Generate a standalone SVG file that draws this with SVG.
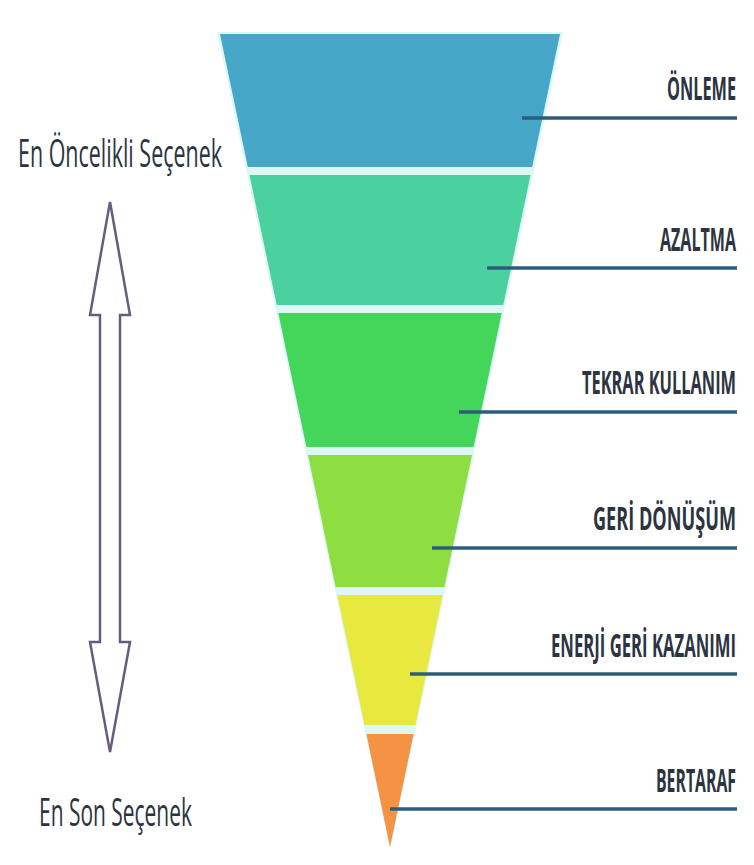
<svg xmlns="http://www.w3.org/2000/svg" width="754" height="865" viewBox="0 0 754 865">
<style>
.lbl{font-family:"Open Sans","Liberation Sans",sans-serif;font-weight:700;font-size:32px;fill:#2b3440}
.side{font-family:"Open Sans","Liberation Sans",sans-serif;font-size:39px;fill:#2b3440}
.ln{stroke:#2e5d7c;stroke-width:3.5;fill:none}
.arr{fill:#ffffff;stroke:#675c7f;stroke-width:2.5;stroke-linejoin:miter}
</style>
<rect width="754" height="865" fill="#ffffff"/>
<polygon points="217,32 563,32 390,850" fill="#dcf7f6"/>
<g id="onleme">
<polygon points="220,34 560,34 532.2,167 247.8,167" fill="#47a7c8"/>
<text class="lbl" transform="translate(667,100) scale(0.53,1)" x="0" y="0" textLength="130.2" lengthAdjust="spacingAndGlyphs">ÖNLEME</text>
</g>
<g id="azaltma">
<polygon points="249.5,175 530.5,175 503.3,305 276.7,305" fill="#4bd19f"/>
<text class="lbl" transform="translate(660,251) scale(0.53,1)" x="0" y="0" textLength="143.4" lengthAdjust="spacingAndGlyphs">AZALTMA</text>
</g>
<g id="tekrar">
<polygon points="278.3,313 501.7,313 473.6,447 306.4,447" fill="#44d65a"/>
<text class="lbl" transform="translate(582,394) scale(0.53,1)" x="0" y="0" textLength="290.6" lengthAdjust="spacingAndGlyphs">TEKRAR KULLANIM</text>
</g>
<g id="geri-donusum">
<polygon points="308,455 472,455 444.4,587 335.6,587" fill="#8ede42"/>
<text class="lbl" transform="translate(593,530) scale(0.53,1)" x="0" y="0" textLength="269.8" lengthAdjust="spacingAndGlyphs">GERİ DÖNÜŞÜM</text>
</g>
<g id="enerji">
<polygon points="337.3,595 442.7,595 415.5,725 364.5,725" fill="#e8e93f"/>
<text class="lbl" transform="translate(551,657) scale(0.53,1)" x="0" y="0" textLength="349.1" lengthAdjust="spacingAndGlyphs">ENERJİ GERİ KAZANIMI</text>
</g>
<g id="bertaraf">
<polygon points="366.4,734 413.6,734 390,847" fill="#f39343"/>
<text class="lbl" transform="translate(656,792) scale(0.53,1)" x="0" y="0" textLength="150.9" lengthAdjust="spacingAndGlyphs">BERTARAF</text>
</g>
<g id="connectors">
<line class="ln" x1="522" y1="118" x2="737" y2="118"/>
<line class="ln" x1="487" y1="268" x2="737" y2="268"/>
<line class="ln" x1="459" y1="412" x2="737" y2="412"/>
<line class="ln" x1="432" y1="548" x2="737" y2="548"/>
<line class="ln" x1="410" y1="674" x2="737" y2="674"/>
<line class="ln" x1="390" y1="809" x2="737" y2="809"/>
</g>
<g id="priority-arrow">
<polygon class="arr" points="110,202 130,315 120,315 120,642 130,642 110,752 90,642 100,642 100,315 90,315"/>
</g>
<g id="top-label">
<text class="side" x="18" y="167" textLength="204" lengthAdjust="spacingAndGlyphs">En Öncelikli Seçenek</text>
</g>
<g id="bottom-label">
<text class="side" x="39" y="826" textLength="153" lengthAdjust="spacingAndGlyphs">En Son Seçenek</text>
</g>
</svg>
